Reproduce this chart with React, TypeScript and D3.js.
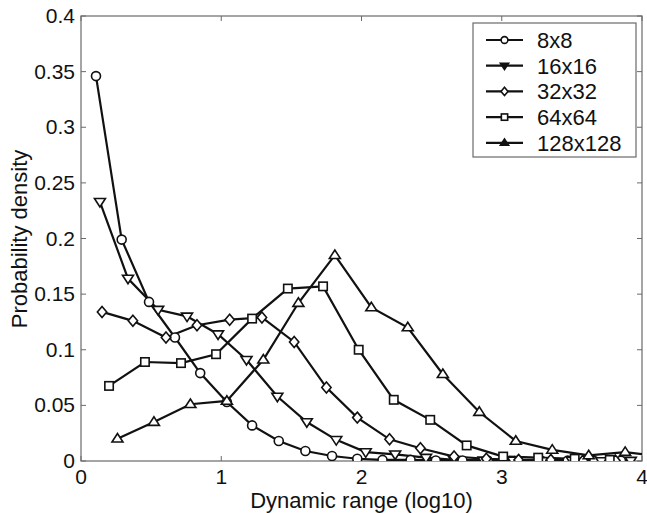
import React from "react";
import * as d3 from "d3";

const seriesNames = ["8x8", "16x16", "32x32", "64x64", "128x128"];

const x8 = [0.107, 0.29, 0.485, 0.67, 0.85, 1.04, 1.22, 1.41, 1.6, 1.79, 1.97, 2.15, 2.35, 2.53, 2.72, 2.9, 3.09, 3.28, 3.47, 3.66, 3.85];
const y8 = [0.346, 0.199, 0.143, 0.111, 0.079, 0.053, 0.032, 0.018, 0.009, 0.0045, 0.002, 0.001, 0.001, 0.0005, 0.0005, 0.0005, 0, 0.0005, 0.0003, 0, 0.0003];

const x16 = [0.135, 0.335, 0.55, 0.756, 0.977, 1.18, 1.4, 1.61, 1.82, 2.03, 2.24, 2.46, 2.66, 2.87, 3.08, 3.29, 3.5, 3.71, 3.92];
const y16 = [0.233, 0.164, 0.136, 0.13, 0.114, 0.091, 0.058, 0.035, 0.019, 0.008, 0.006, 0.003, 0.001, 0.0005, 0.0005, 0, 0.0005, 0, 0.0003];

const x32 = [0.15, 0.37, 0.606, 0.827, 1.06, 1.29, 1.52, 1.75, 1.97, 2.2, 2.42, 2.66, 2.89, 3.12, 3.35, 3.58, 3.81];
const y32 = [0.134, 0.126, 0.111, 0.122, 0.127, 0.129, 0.107, 0.066, 0.039, 0.0195, 0.0115, 0.004, 0.002, 0.001, 0.001, 0.0005, 0.0005];

const x64 = [0.2, 0.456, 0.713, 0.963, 1.22, 1.475, 1.726, 1.98, 2.23, 2.49, 2.75, 3.01, 3.26, 3.52, 3.77];
const y64 = [0.0675, 0.089, 0.088, 0.096, 0.128, 0.155, 0.157, 0.1, 0.055, 0.037, 0.014, 0.004, 0.003, 0.002, 0.001];

const x128 = [0.26, 0.52, 0.78, 1.04, 1.3, 1.55, 1.81, 2.07, 2.33, 2.58, 2.84, 3.1, 3.36, 3.62, 3.88, 4.14];
const y128 = [0.02, 0.035, 0.051, 0.054, 0.091, 0.142, 0.185, 0.138, 0.12, 0.078, 0.044, 0.018, 0.01, 0.005, 0.008, 0.004];

const xTicks = [0, 1, 2, 3, 4];
const yTicks = [0, 0.05, 0.1, 0.15, 0.2, 0.25, 0.3, 0.35, 0.4];
const yTickLabels = ["0", "0.05", "0.1", "0.15", "0.2", "0.25", "0.3", "0.35", "0.4"];

const markers = ["circle", "tridown", "diamond", "square", "triup"];

const W = 647, H = 513;
const L = 81, R = 642, T = 16, B = 461;
const FONT = "'Liberation Sans', Arial, Helvetica, sans-serif";

function Marker({ type, x, y, s = 1, fill = "white" }: { type: string; x: number; y: number; s?: number; fill?: string }) {
  const st = { stroke: "#111", strokeWidth: 1.6, fill };
  if (type === "circle") return <circle cx={x} cy={y} r={4.5 * s} {...st} />;
  if (type === "square") { const h = 4.2 * s; return <rect x={x - h} y={y - h} width={2 * h} height={2 * h} {...st} />; }
  if (type === "diamond") { const h = 5.5 * s; return <path d={`M${x},${y - h}L${x + h * 0.85},${y}L${x},${y + h}L${x - h * 0.85},${y}Z`} {...st} />; }
  if (type === "tridown") { const h = 5.5 * s; return <path d={`M${x - h},${y - h * 0.6}L${x + h},${y - h * 0.6}L${x},${y + h * 0.95}Z`} {...st} />; }
  const h = 5.5 * s;
  return <path d={`M${x - h},${y + h * 0.6}L${x + h},${y + h * 0.6}L${x},${y - h * 0.95}Z`} {...st} />;
}

export default function App() {
  const xs = d3.scaleLinear().domain([0, 4]).range([L, R]);
  const ys = d3.scaleLinear().domain([0, 0.4]).range([B, T]);
  const series = [
    { x: x8, y: y8 }, { x: x16, y: y16 }, { x: x32, y: y32 }, { x: x64, y: y64 }, { x: x128, y: y128 },
  ];
  const line = d3.line<[number, number]>().x(d => xs(d[0])).y(d => ys(d[1]));
  const axisColor = "#6a6a6a";
  const tl = 5;
  return (
    <svg width={W} height={H} style={{ position: "absolute", left: 0, top: 0, background: "white" }} fontFamily={FONT}>
      <defs>
        <clipPath id="plot"><rect x={L} y={T} width={R - L} height={B - T} /></clipPath>
      </defs>
      <rect x={0} y={0} width={W} height={H} fill="white" />
      {xTicks.map(t => (
        <g key={"xt" + t}>
          <line x1={xs(t)} x2={xs(t)} y1={B} y2={B - tl} stroke={axisColor} />
          <line x1={xs(t)} x2={xs(t)} y1={T} y2={T + tl} stroke={axisColor} />
          <text x={xs(t)} y={B + 23} textAnchor="middle" fontSize={21} fill="#111">{t}</text>
        </g>
      ))}
      {yTicks.map((t, i) => (
        <g key={"yt" + t}>
          <line x1={L} x2={L + tl} y1={ys(t)} y2={ys(t)} stroke={axisColor} />
          <line x1={R} x2={R - tl} y1={ys(t)} y2={ys(t)} stroke={axisColor} />
          <text x={L - 6} y={ys(t) + 7} textAnchor="end" fontSize={21} fill="#111">{yTickLabels[i]}</text>
        </g>
      ))}
      <rect x={L} y={T} width={R - L} height={B - T} fill="none" stroke={axisColor} strokeWidth={1.2} />
      <g clipPath="url(#plot)">
        {series.map((s, i) => (
          <path key={"l" + i} d={line(s.x.map((v, j) => [v, s.y[j]] as [number, number])) || ""} fill="none" stroke="#111" strokeWidth={2.2} />
        ))}
        {series.map((s, i) => s.x.map((v, j) => (
          <Marker key={`m${i}-${j}`} type={markers[i]} x={xs(v)} y={ys(s.y[j])} />
        )))}
      </g>
      <text x={361.5} y={508} textAnchor="middle" fontSize={22} fill="#111">Dynamic range (log10)</text>
      <text transform={`translate(27,239) rotate(-90)`} textAnchor="middle" fontSize={22} fill="#111">Probability density</text>
      <g>
        <rect x={473} y={23} width={163} height={134} fill="white" stroke={axisColor} strokeWidth={1.2} />
        {seriesNames.map((n, i) => {
          const yy = 40 + i * 25.7;
          return (
            <g key={"lg" + n}>
              <line x1={486} x2={523} y1={yy} y2={yy} stroke="#111" strokeWidth={2.2} />
              <Marker type={markers[i]} x={504.5} y={yy} s={0.75} fill={i === 1 || i === 4 ? "#111" : "white"} />
              <text x={537} y={yy + 8} fontSize={22} fill="#111">{n}</text>
            </g>
          );
        })}
      </g>
    </svg>
  );
}
